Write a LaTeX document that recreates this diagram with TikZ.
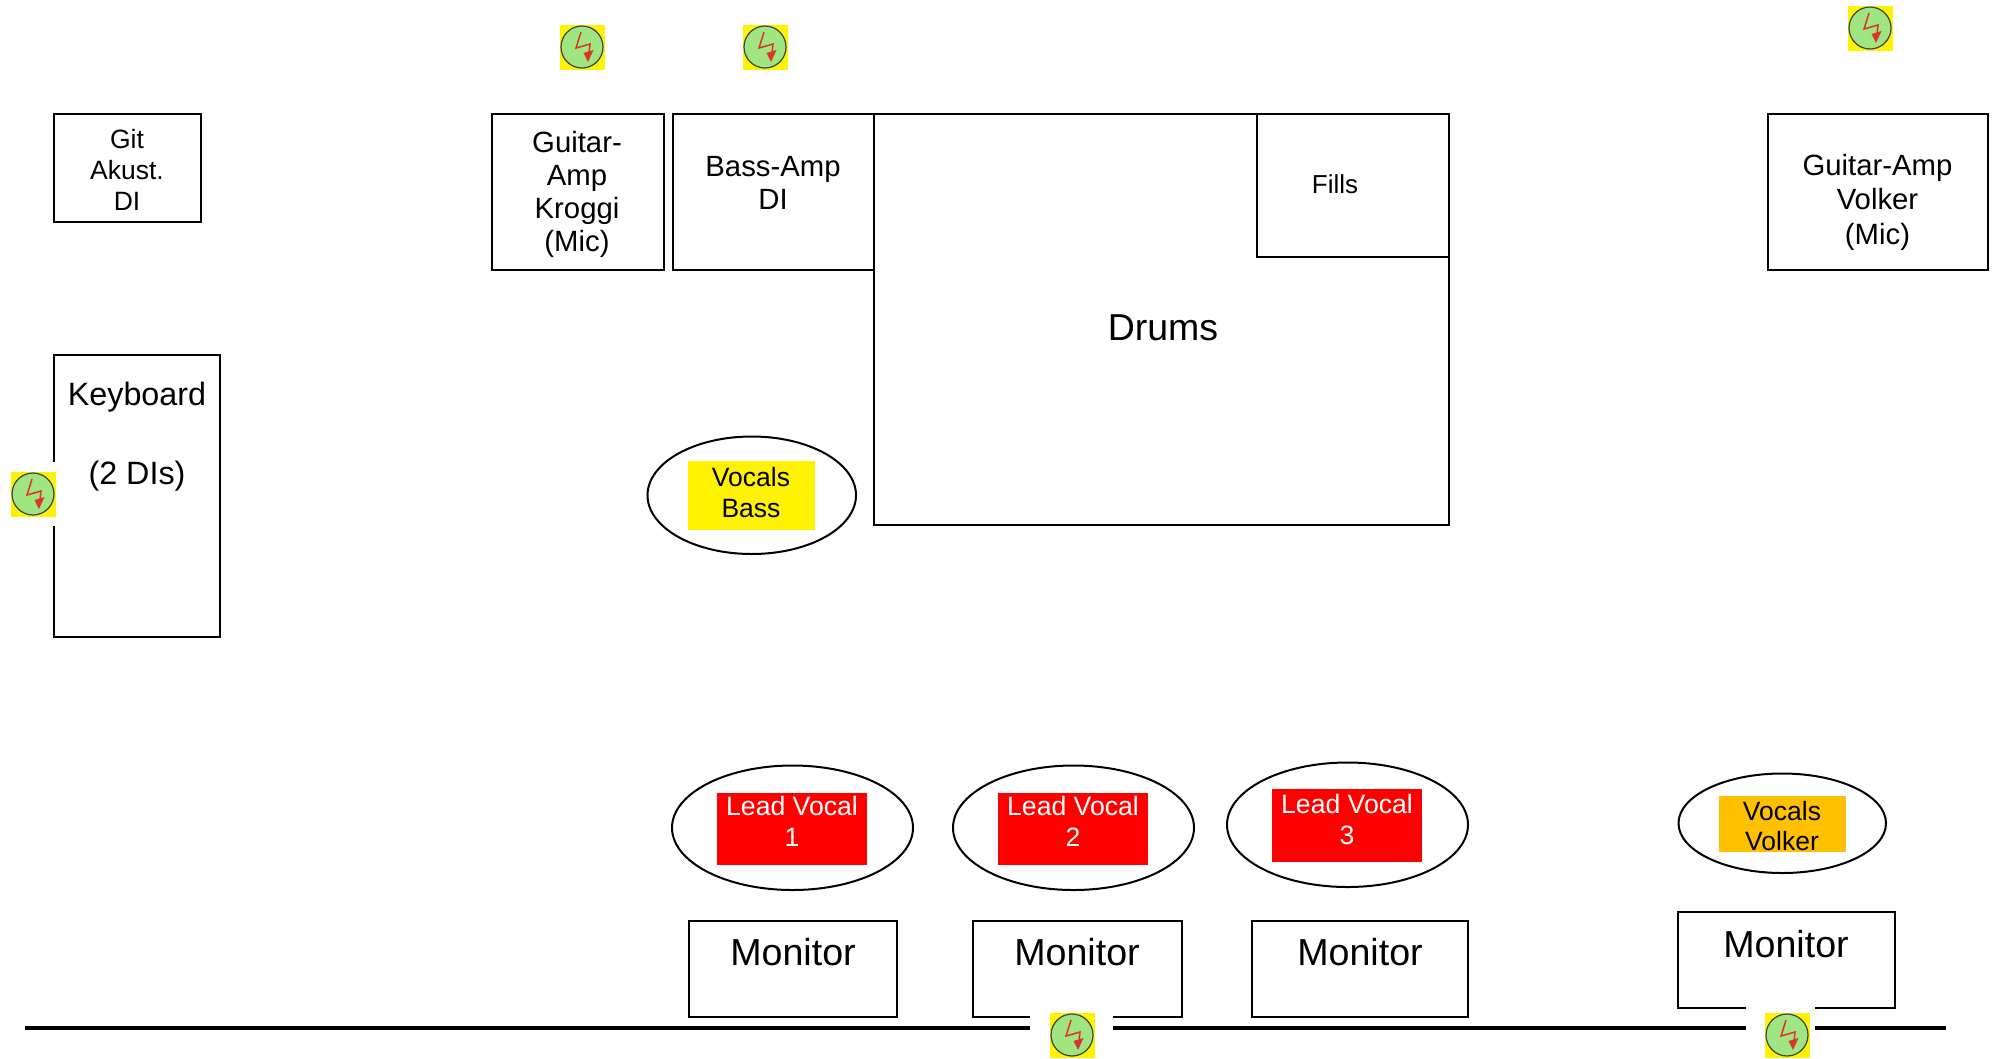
\documentclass[tikz,border=0pt]{standalone}
\usepackage{fontspec}
\setmainfont{Liberation Sans}
\usetikzlibrary{shapes.geometric}
\definecolor{iconGreen}{HTML}{A0E680}
\definecolor{boltRed}{HTML}{D9352B}
\definecolor{volkerOrange}{HTML}{FFC000}
% \bx{name}{x1}{y1}{x2}{y2}
\newcommand{\bx}[5]{\node[boxshape,minimum width={(#4-#2)*1pt},minimum height={(#5-#3)*1pt}] (#1) at ({(#2+#4)/2},{(#3+#5)/2}) {};}
\newcommand{\el}[5]{\node[ovalshape,minimum width={(#4-#2)*1pt},minimum height={(#5-#3)*1pt}] (#1) at ({(#2+#4)/2},{(#3+#5)/2}) {};}
\newcommand{\tagbox}[6]{\node[fill=#6,tagshape,minimum width={(#4-#2)*1pt},minimum height={(#5-#3)*1pt}] (#1) at ({(#2+#4)/2},{(#3+#5)/2}) {};}
\newcommand{\icon}[3]{%
  \node[yellowbox] (#1) at (#2,#3) {};
  \node[greendisc] (#1disc) at (#2,#3) {};
  \draw[boltline] (#2-1,#3-15) -- (#2-6,#3+1) -- (#2+8,#3-3) -- (#2+7,#3+6);
  \fill[boltRed] (#2+1.5,#3+6) -- (#2+11.5,#3+3) -- (#2+6,#3+15) -- cycle;
}
\tikzset{
  boxshape/.style={draw=black,line width=2pt,fill=white,inner sep=0pt,outer sep=0pt,rectangle},
  ovalshape/.style={draw=black,line width=2pt,fill=white,inner sep=0pt,outer sep=0pt,ellipse},
  tagshape/.style={inner sep=0pt,outer sep=0pt,rectangle},
  yellowbox/.style={fill=yellow,minimum size=45pt,inner sep=0pt,outer sep=0pt,rectangle},
  greendisc/.style={fill=iconGreen,draw=black!75,line width=1.2pt,circle,minimum size=42pt,inner sep=0pt,outer sep=0pt},
  boltline/.style={draw=boltRed,line width=1.5pt},
  eraser/.style={fill=white,inner sep=0pt,outer sep=0pt,rectangle},
  txt/.style={align=center,inner sep=0pt,outer sep=0pt,text=black},
  stageline/.style={draw=black,line width=4pt},
}
\begin{document}
\begin{tikzpicture}[x=1pt,y=-1pt]
\useasboundingbox (0,0) rectangle (1993,1058);
% stage edge
\coordinate (edgeL) at (25,1028);
\coordinate (edgeR) at (1946,1028);
\draw[stageline] (edgeL) -- (edgeR);
% boxes
\bx{git}{54}{114}{201}{222}
\bx{kroggi}{492}{114}{664}{270}
\bx{bass}{673}{114}{874}{270}
\bx{drums}{874}{114}{1449}{525}
\bx{fills}{1257}{114}{1449}{257}
\bx{volker}{1768}{114}{1988}{270}
\bx{keyboard}{54}{355}{220}{637}
\bx{monA}{689}{921}{897}{1017}
\bx{monB}{973}{921}{1182}{1017}
\bx{monC}{1252}{921}{1468}{1017}
\bx{monD}{1678}{912}{1895}{1008}
% vocal ellipses
\el{ovalBass}{647.5}{436.5}{856}{554}
\el{ovalA}{672}{765.5}{913}{890}
\el{ovalB}{953}{765.5}{1194}{890}
\el{ovalC}{1227}{762.5}{1468}{887}
\el{ovalD}{1678.5}{773.5}{1886}{873}
% coloured tags
\tagbox{tagBass}{688}{460.5}{815}{530}{yellow}
\tagbox{tagA}{717}{792.5}{867}{864.5}{red}
\tagbox{tagB}{998}{792.5}{1148}{864.5}{red}
\tagbox{tagC}{1272}{788.5}{1422}{862}{red}
\tagbox{tagD}{1718.5}{796}{1846}{852}{volkerOrange}
% labels
\node[txt,font=\fontsize{26.5}{31}\selectfont] (tGit) at (127,170) {Git\\Akust.\\DI};
\node[txt,font=\fontsize{29.3}{33}\selectfont] (tKroggi) at (577,194.5) {Guitar-\\Amp\\Kroggi\\(Mic)};
\node[txt,font=\fontsize{29.3}{33}\selectfont] (tBass) at (773,183) {Bass-Amp\\DI};
\node[txt,font=\fontsize{29.3}{34.5}\selectfont] (tVolker) at (1877.5,202) {Guitar-Amp\\Volker\\(Mic)};
\node[txt,font=\fontsize{26}{31}\selectfont] (tFills) at (1335,184) {Fills};
\node[txt,font=\fontsize{37.5}{37.5}\selectfont] (tDrums) at (1163,328) {Drums};
\node[txt,font=\fontsize{32.3}{39.5}\selectfont] (tKeyboard) at (137,437) {Keyboard\\[39.5pt](2 DIs)};
\node[txt,font=\fontsize{26.5}{31}\selectfont] (tVB) at (751,493) {Vocals\\Bass};
\node[txt,font=\fontsize{26.6}{31}\selectfont,text=white] (tLA) at (792,821.5) {Lead Vocal\\1};
\node[txt,font=\fontsize{26.6}{31}\selectfont,text=white] (tLB) at (1073,821.5) {Lead Vocal\\2};
\node[txt,font=\fontsize{26.6}{31}\selectfont,text=white] (tLC) at (1347,819.5) {Lead Vocal\\3};
\node[txt,font=\fontsize{26.5}{30}\selectfont] (tVV) at (1782,826.5) {Vocals\\Volker};
\node[txt,font=\fontsize{37.6}{37.6}\selectfont] (tMA) at (793,952.5) {Monitor};
\node[txt,font=\fontsize{37.6}{37.6}\selectfont] (tMB) at (1077,952.5) {Monitor};
\node[txt,font=\fontsize{37.6}{37.6}\selectfont] (tMC) at (1360,952.5) {Monitor};
\node[txt,font=\fontsize{37.6}{37.6}\selectfont] (tMD) at (1786,944.5) {Monitor};
% white gaps round the icons
\node[eraser,minimum width=20pt,minimum height=64pt] (gapKey) at (53,494) {};
\node[eraser,minimum width=83pt,minimum height=45pt] (gapB) at (1071.5,1035.5) {};
\node[eraser,minimum width=69pt,minimum height=58pt] (gapD) at (1780.5,1029) {};
% power icons
\icon{pKroggi}{582}{47}
\icon{pBass}{765}{47}
\icon{pVolker}{1870}{28}
\icon{pKey}{33}{494}
\icon{pStageB}{1072}{1035}
\icon{pStageD}{1787}{1035}
\end{tikzpicture}
\end{document}
